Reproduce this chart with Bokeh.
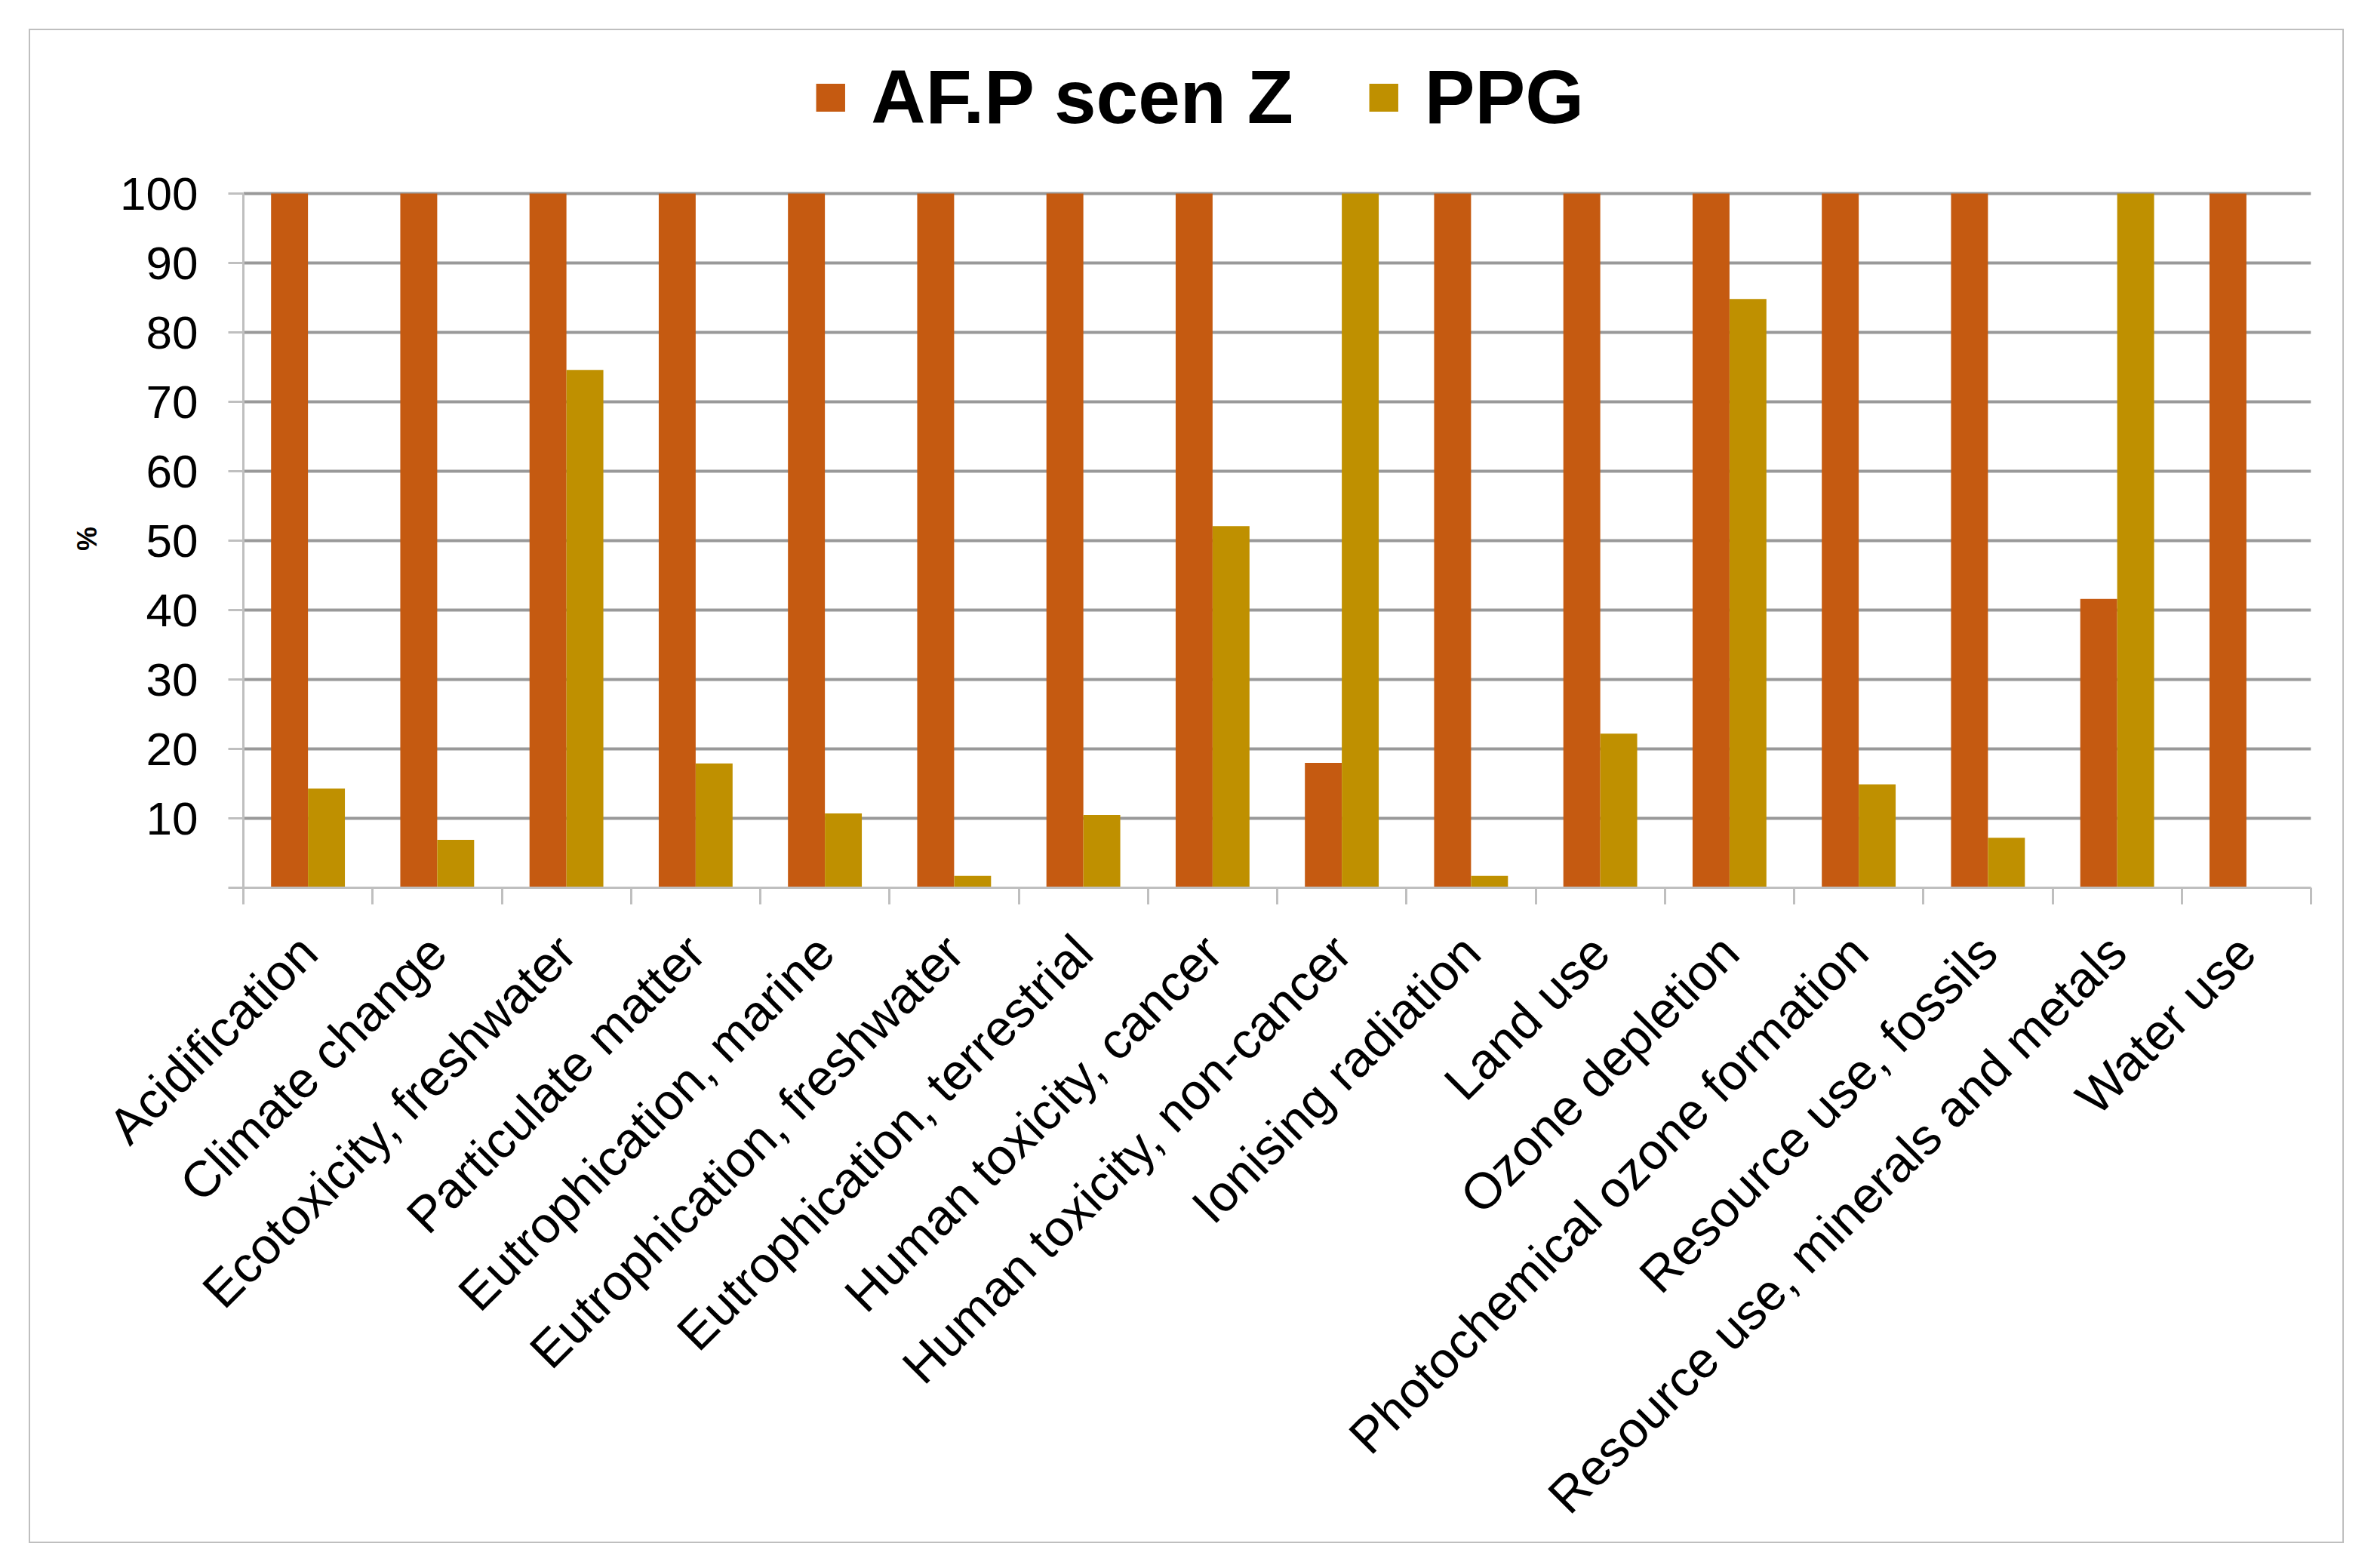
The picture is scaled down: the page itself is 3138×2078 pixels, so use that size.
import math
from bokeh.plotting import figure
from bokeh.models import Range1d, FixedTicker, Legend, LegendItem, ColumnDataSource
from bokeh.transform import dodge
from bokeh.embed import file_html
from bokeh.resources import INLINE

categories = [
    "Acidification", "Climate change", "Ecotoxicity, freshwater", "Particulate matter",
    "Eutrophication, marine", "Eutrophication, freshwater", "Eutrophication, terrestrial",
    "Human toxicity, cancer", "Human toxicity, non-cancer", "Ionising radiation", "Land use",
    "Ozone depletion", "Photochemical ozone formation", "Resource use, fossils",
    "Resource use, minerals and metals", "Water use",
]
afp_scen_z = [100, 100, 100, 100, 100, 100, 100, 100, 18.0, 100, 100, 100, 100, 100, 41.6, 100]
ppg = [14.3, 6.9, 74.6, 17.9, 10.7, 1.7, 10.5, 52.1, 100, 1.7, 22.2, 84.8, 14.9, 7.2, 100, 0]
series_names = ["AF.P scen Z", "PPG"]
series_colors = ["#C55A11", "#BF9000"]
y_ticks = [0, 10, 20, 30, 40, 50, 60, 70, 80, 90, 100]
y_title = "%"

FONT = "Liberation Sans"
n = len(categories)
pos = list(range(n))
src = ColumnDataSource(dict(x=pos, a=afp_scen_z, b=ppg))

# the frame also holds the legend band above the 0-100 value area
VALUE_H = 920
FRAME_H = 1105
Y_END = 100 * FRAME_H / VALUE_H

p = figure(
    x_range=Range1d(-0.5, n - 0.5), y_range=Range1d(0, Y_END),
    frame_width=2740, frame_height=FRAME_H,
    min_border_left=314, min_border_right=74, min_border_top=63, min_border_bottom=899,
    output_backend="svg", toolbar_location=None,
)
p.margin = (8, 0, 0, 8)
p.styles = {"outline": "2px solid #BFBFBF", "outline-offset": "-32px"}
p.outline_line_color = None
p.background_fill_color = "white"
p.border_fill_alpha = 0

w = 0.2857
r1 = p.vbar(x=dodge("x", -w / 2, range=p.x_range), top="a", width=w, source=src,
            fill_color=series_colors[0], line_color=None)
r2 = p.vbar(x=dodge("x", w / 2, range=p.x_range), top="b", width=w, source=src,
            fill_color=series_colors[1], line_color=None)

# x axis
xa = p.xaxis[0]
xa.ticker = FixedTicker(ticks=pos, minor_ticks=[i - 0.5 for i in range(n + 1)])
xa.major_label_overrides = {i: c for i, c in zip(pos, categories)}
xa.major_tick_out = 0
xa.major_tick_in = 0
xa.minor_tick_out = 22
xa.minor_tick_in = 0
xa.minor_tick_line_color = "#BFBFBF"
xa.minor_tick_line_width = 3
xa.axis_line_color = "#BFBFBF"
xa.axis_line_width = 3
xa.major_label_orientation = math.pi / 4
xa.major_label_text_font = FONT
xa.major_label_text_font_size = "67px"
xa.major_label_text_color = "black"
xa.major_label_standoff = 52

# y axis
ya = p.yaxis[0]
ya.bounds = (0, 100)
ya.ticker = FixedTicker(ticks=y_ticks)
ya.major_label_overrides = {0: ""}
ya.major_tick_out = 20
ya.major_tick_in = 0
ya.minor_tick_line_color = None
ya.major_tick_line_color = "#BFBFBF"
ya.major_tick_line_width = 3
ya.axis_line_color = "#BFBFBF"
ya.axis_line_width = 3
ya.major_label_text_font = FONT
ya.major_label_text_font_size = "62px"
ya.major_label_text_color = "black"
ya.major_label_standoff = 40
# trailing no-break spaces move the title down to the middle of the 0-100 span
ya.axis_label = y_title + "\u00a0" * 18
ya.axis_label_text_font = FONT
ya.axis_label_text_font_size = "36px"
ya.axis_label_text_font_style = "bold"
ya.axis_label_text_color = "black"
ya.axis_label_standoff = 20

p.xgrid.visible = False
p.ygrid.ticker = FixedTicker(ticks=y_ticks[1:])
p.ygrid.grid_line_color = "#999999"
p.ygrid.grid_line_width = 4

legend = Legend(
    items=[LegendItem(label=series_names[0], renderers=[r1]),
           LegendItem(label=series_names[1], renderers=[r2])],
    orientation="horizontal", location="top_center",
    glyph_width=48, glyph_height=46, label_standoff=30, spacing=96, label_width=420,
    label_text_font=FONT, label_text_font_size="100px", label_text_font_style="bold",
    label_text_color="black", padding=0, margin=0,
    border_line_color=None, background_fill_alpha=0,
)
p.add_layout(legend)

open("out.html", "w").write(file_html(p, INLINE))
